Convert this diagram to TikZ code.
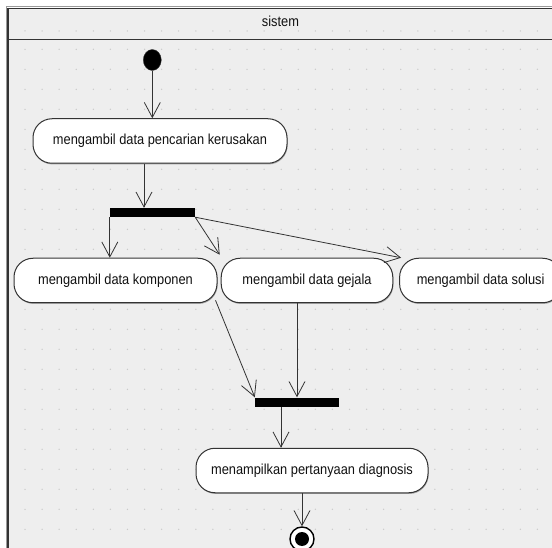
\documentclass[tikz,border=0pt]{standalone}
\usepackage{fontspec}
\usetikzlibrary{arrows.meta,shapes.geometric,shadows}
\newfontfamily\uifont[FakeStretch=0.885]{Liberation Sans}
\definecolor{canvas}{HTML}{EEEEEE}
\definecolor{gridc}{HTML}{CACACA}
\definecolor{linec}{HTML}{333333}
\definecolor{framec}{HTML}{9A9A9A}
\definecolor{textc}{HTML}{111111}
\tikzset{
  uitext/.style={font=\uifont\fontsize{14.5}{16}\selectfont, text=textc},
  act/.style={uitext, draw=linec, fill=white, rounded corners=19pt, line width=1pt,
    minimum height=44.5pt, inner sep=0pt,
    drop shadow={shadow xshift=0.6pt, shadow yshift=-1.2pt, fill=black, opacity=0.3}},
  bar/.style={fill=black, draw=none, minimum width=85pt, minimum height=9pt, inner sep=0pt},
  flow/.style={draw=linec, line width=0.8pt,
    -{Straight Barb[length=15pt,width=16pt,line width=0.8pt]}},
}
\begin{document}
\begin{tikzpicture}[x=1pt,y=-1pt]
\useasboundingbox (0,0) rectangle (552,548);
\clip (0,0) rectangle (552,548);
% swimlane canvas
\fill[canvas] (7.5,8.3) rectangle (600,600);
% dotted grid
\foreach \i in {0,...,31}{
  \foreach \j in {0,...,25}{
    \fill[gridc] ({25+17.08*\i},{49.3+20*\j}) circle (0.75);
  }
  \fill[gridc] ({25+17.08*\i},31) circle (0.75);
}
% lane frame and header
\draw[framec, line width=1pt] (6,600) -- (6,7) -- (600,7);
\draw[linec, line width=1.3pt] (8,600) -- (8,8.8) -- (600,8.8);
\draw[linec, line width=1.3pt] (8,39.5) -- (600,39.5);
\node[uitext] (lane) at (280.5,21.5) {sistem};

% activity nodes
\node[ellipse, fill=black, draw=linec, minimum width=18pt, minimum height=21pt, inner sep=0pt] (start) at (152.3,60) {};
\node[act, minimum width=254pt] (act1) at (160,141) {mengambil data pencarian kerusakan};
\node[bar] (fork) at (152.5,212.5) {};
\node[act, minimum width=203pt] (komp) at (115.5,280.5) {mengambil data komponen};
\node[act, minimum width=171.6pt] (gej) at (307,280.5) {mengambil data gejala};
\node[act, minimum width=162pt] (sol) at (480.6,280.5) {mengambil data solusi};
\node[bar, minimum width=84pt] (join) at (297,402) {};
\node[act, minimum width=232pt] (show) at (312,470.5) {menampilkan pertanyaan diagnosis};
\node[circle, draw=black, line width=1.4pt, fill=white, minimum size=24pt, inner sep=0pt] (end) at (302,539) {};
\node[circle, fill=black, minimum size=14pt, inner sep=0pt] (endc) at (end.center) {};

% connector end points
\coordinate (a1) at ([xshift=-16pt]act1.south);
\coordinate (k1) at ([xshift=-2pt,yshift=3pt]komp.south east);
\coordinate (j1) at ([xshift=-16pt]join.south);

% control flow
\draw[flow] (start) -- (start |- act1.north);
\draw[flow] (a1) -- (a1 |- fork.north);
\draw[flow] (fork.south west) -- (fork.south west |- komp.north);
\draw[flow] (fork.south east) -- ([xshift=-1pt,yshift=3pt]gej.north west);
\draw[flow] (fork.south east) -- ([xshift=2pt]sol.north west);
\draw[flow] (k1) -- (join.north west);
\draw[flow] (join.north |- gej.south) -- (join.north);
\draw[flow] (j1) -- (j1 |- show.north);
\draw[flow] (end |- show.south) -- (end.north);
\end{tikzpicture}
\end{document}
